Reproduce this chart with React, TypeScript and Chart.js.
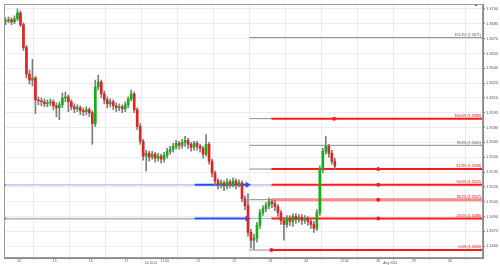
import React, { useEffect, useRef } from 'react';
import { Chart, registerables } from 'chart.js';

Chart.register(...registerables);

// ---- candle data (one candle per slot) ----
const openP = [1.3687,1.3688,1.3689,1.3687,1.3690,1.3696,1.3684,1.3661,1.3634,1.3628,
1.3630,1.3608,1.3607,1.3606,1.3604,1.3605,1.3606,1.3602,1.3600,1.3603,
1.3610,1.3611,1.3606,1.3601,1.3599,1.3600,1.3597,1.3596,1.3598,1.3595,
1.3584,1.3621,1.3626,1.3614,1.3608,1.3604,1.3606,1.3602,1.3600,1.3601,
1.3599,1.3603,1.3609,1.3614,1.3598,1.3581,1.3566,1.3551,1.3554,1.3550,
1.3553,1.3549,1.3551,1.3548,1.3552,1.3556,1.3558,1.3561,1.3564,1.3562,
1.3565,1.3567,1.3563,1.3560,1.3564,1.3561,1.3559,1.3553,1.3563,1.3546,
1.3534,1.3526,1.3522,1.3524,1.3521,1.3525,1.3523,1.3526,1.3522,1.3524,
1.3508,1.3501,1.3474,1.3466,1.3468,1.3481,1.3494,1.3498,1.3501,1.3505,
1.3503,1.3500,1.3494,1.3486,1.3482,1.3488,1.3485,1.3490,1.3487,1.3489,
1.3486,1.3488,1.3485,1.3482,1.3478,1.3494,1.3538,1.3556,1.3561,1.3554,
1.3546];
const highP = [1.3691,1.3692,1.3691,1.3693,1.3700,1.3698,1.3686,1.3663,1.3638,1.3649,
1.3632,1.3611,1.3610,1.3609,1.3608,1.3609,1.3608,1.3605,1.3606,1.3615,
1.3616,1.3613,1.3608,1.3604,1.3603,1.3602,1.3600,1.3601,1.3600,1.3597,
1.3628,1.3633,1.3628,1.3617,1.3611,1.3609,1.3608,1.3605,1.3604,1.3603,
1.3606,1.3611,1.3618,1.3616,1.3600,1.3584,1.3568,1.3557,1.3556,1.3556,
1.3555,1.3554,1.3553,1.3555,1.3559,1.3561,1.3564,1.3567,1.3566,1.3568,
1.3571,1.3569,1.3565,1.3566,1.3566,1.3563,1.3561,1.3573,1.3565,1.3548,
1.3536,1.3528,1.3527,1.3526,1.3528,1.3527,1.3529,1.3528,1.3527,1.3526,
1.3511,1.3513,1.3477,1.3472,1.3484,1.3497,1.3501,1.3504,1.3509,1.3507,
1.3506,1.3502,1.3496,1.3489,1.3491,1.3491,1.3493,1.3493,1.3492,1.3492,
1.3491,1.3490,1.3487,1.3485,1.3497,1.3541,1.3559,1.3571,1.3563,1.3557,
1.3549];
const lowP = [1.3684,1.3686,1.3684,1.3685,1.3688,1.3682,1.3658,1.3630,1.3624,1.3622,
1.3594,1.3603,1.3602,1.3601,1.3601,1.3602,1.3598,1.3591,1.3588,1.3600,
1.3606,1.3596,1.3598,1.3595,1.3596,1.3593,1.3592,1.3593,1.3591,1.3563,
1.3581,1.3618,1.3610,1.3604,1.3600,1.3601,1.3598,1.3596,1.3597,1.3595,
1.3596,1.3600,1.3607,1.3595,1.3578,1.3563,1.3547,1.3536,1.3546,1.3548,
1.3545,1.3546,1.3544,1.3545,1.3549,1.3553,1.3555,1.3558,1.3558,1.3559,
1.3561,1.3559,1.3556,1.3557,1.3557,1.3555,1.3549,1.3551,1.3543,1.3530,
1.3522,1.3518,1.3519,1.3516,1.3518,1.3519,1.3520,1.3518,1.3520,1.3505,
1.3497,1.3470,1.3458,1.3457,1.3464,1.3478,1.3491,1.3495,1.3498,1.3499,
1.3496,1.3490,1.3482,1.3466,1.3479,1.3481,1.3480,1.3483,1.3484,1.3482,
1.3483,1.3481,1.3478,1.3474,1.3476,1.3491,1.3534,1.3553,1.3550,1.3543,
1.3538];
const closeP = [1.3688,1.3689,1.3687,1.3690,1.3696,1.3684,1.3661,1.3634,1.3628,1.3630,
1.3608,1.3607,1.3606,1.3604,1.3605,1.3606,1.3602,1.3600,1.3603,1.3610,
1.3611,1.3606,1.3601,1.3599,1.3600,1.3597,1.3596,1.3598,1.3595,1.3584,
1.3621,1.3626,1.3614,1.3608,1.3604,1.3606,1.3602,1.3600,1.3601,1.3599,
1.3603,1.3609,1.3614,1.3598,1.3581,1.3566,1.3551,1.3554,1.3550,1.3553,
1.3549,1.3551,1.3548,1.3552,1.3556,1.3558,1.3561,1.3564,1.3562,1.3565,
1.3567,1.3563,1.3560,1.3564,1.3561,1.3559,1.3553,1.3563,1.3546,1.3534,
1.3526,1.3522,1.3524,1.3521,1.3525,1.3523,1.3526,1.3522,1.3524,1.3508,
1.3501,1.3474,1.3466,1.3468,1.3481,1.3494,1.3498,1.3501,1.3505,1.3503,
1.3500,1.3494,1.3486,1.3482,1.3488,1.3485,1.3490,1.3487,1.3489,1.3486,
1.3488,1.3485,1.3482,1.3478,1.3494,1.3538,1.3556,1.3561,1.3554,1.3546,
1.3541];

// ---- axes ----
const slotMax = 160;
const xTickSlots = [4, 16, 28, 40, 52, 64, 76, 88, 100, 112, 124, 136, 148];
const xTickLabels = ['14', '15', '16', '17', '12:00', '21', '22', '23', '24', '12:00', '28', '29', '30'];
const monthLabels = ['Jul 2014', 'Aug 2014'];
const monthSlots = [49, 129];
const yMin = 1.3448;
const yMax = 1.3705;
const yTicks = [1.37, 1.3685, 1.367, 1.3655, 1.364, 1.3625, 1.361, 1.3595, 1.358, 1.3565, 1.355, 1.3535, 1.352, 1.3505, 1.349, 1.3475, 1.346];

// ---- Fibonacci levels ----
const fibPct = ['0.0%', '23.6%', '38.2%', '50.0%', '61.8%', '78.6%', '100.0%', '161.8%'];
const fibPrice = [1.3456, 1.3488, 1.3507, 1.3522, 1.3538, 1.3562, 1.3589, 1.3671];
const fibStartSlot = 82;
const fibActiveSlot = 89.3;
const fibDotSlot = [89.3, 125, 125, 125, 125, null, 110.3, null];
const arrowPrice = [1.3522, 1.3488];
const arrowFromSlot = 63.7;
const arrowToSlot = 81.3;
const topMarker = { slot: 157.7, price: 1.3705 };

// styles per level (kept separate from data)
const fibKind = ['red', 'red', 'redLight', 'red', 'red', 'gray', 'red', 'gray'];
const fibLead = ['gray', 'blue', 'gray', 'blue', 'gray', 'gray', 'gray', 'gray'];

const RED = '#ff1a1a';
const GRAY = '#8c8c8c';
const LAV = '#a4a4ff';
const BLUE = '#1f4fff';
const FONT = '"Liberation Sans", Arial, sans-serif';

export default function App() {
  const ref = useRef<HTMLCanvasElement | null>(null);

  useEffect(() => {
    if (!ref.current) return;
    const datasets: any[] = [];

    fibPrice.forEach((p, k) => {
      const kind = fibKind[k];
      if (kind === 'gray') {
        datasets.push({ type: 'line', data: [{ x: fibStartSlot, y: p }, { x: slotMax, y: p }], borderColor: GRAY, borderWidth: 1, pointRadius: 0, order: 5 });
      } else {
        if (fibLead[k] === 'blue') {
          datasets.push({ type: 'line', data: [{ x: 0, y: p }, { x: fibActiveSlot, y: p }], borderColor: LAV, borderWidth: 1, pointRadius: [2, 0], pointStyle: 'rect', pointBackgroundColor: '#3040ff', pointBorderWidth: 0, order: 5 });
        } else {
          datasets.push({ type: 'line', data: [{ x: fibStartSlot, y: p }, { x: fibActiveSlot, y: p }], borderColor: GRAY, borderWidth: 1, pointRadius: 0, order: 5 });
        }
        datasets.push({ type: 'line', data: [{ x: fibActiveSlot, y: p }, { x: slotMax, y: p }], borderColor: kind === 'redLight' ? 'rgba(255,60,60,0.6)' : RED, borderWidth: kind === 'redLight' ? 3 : 2, pointRadius: 0, order: 5 });
      }
    });
    datasets.push({ type: 'line', data: [{ x: 0, y: arrowPrice[1] - 0.0001 }, { x: arrowFromSlot, y: arrowPrice[1] - 0.0001 }], borderColor: 'rgba(225,225,110,0.9)', borderWidth: 1, pointRadius: 0, order: 5 });
    arrowPrice.forEach((p) => {
      datasets.push({ type: 'line', data: [{ x: arrowFromSlot, y: p }, { x: arrowToSlot, y: p }], borderColor: BLUE, borderWidth: 2, pointRadius: [0, 3.5], pointStyle: 'triangle', rotation: 90, pointBackgroundColor: BLUE, pointBorderColor: BLUE, pointBorderWidth: 0, order: 4 });
    });
    const dots: any[] = [];
    fibPrice.forEach((p, k) => { if (fibDotSlot[k] != null) dots.push({ x: fibDotSlot[k], y: p }); });
    datasets.push({ type: 'scatter', data: dots, pointRadius: 2, pointBackgroundColor: RED, pointBorderWidth: 0, order: 3 });
    datasets.push({ type: 'scatter', data: [{ x: topMarker.slot, y: topMarker.price }], pointRadius: 1.8, pointBackgroundColor: '#000', pointBorderWidth: 0, order: 3 });

    const up = closeP.map((c, i) => c >= openP[i]);
    datasets.push({ type: 'bar', grouped: false, data: closeP.map((_, i) => ({ x: i + 0.5, y: [lowP[i], highP[i]] })), backgroundColor: '#7d7d7d', barThickness: 1, order: 2 });
    datasets.push({ type: 'bar', grouped: false, minBarLength: 1, data: closeP.map((c, i) => ({ x: i + 0.5, y: [openP[i], c] })), backgroundColor: up.map(u => (u ? '#12b012' : '#e02424')), barThickness: 2, order: 1 });

    const overlay = {
      id: 'overlay',
      afterDraw(chart: any) {
        const { ctx, chartArea: a, scales } = chart;
        const x = scales.x, y = scales.y;
        ctx.save();
        ctx.font = `3.6px ${FONT}`;
        ctx.textAlign = 'right';
        ctx.textBaseline = 'bottom';
        fibPrice.forEach((p, k) => {
          ctx.fillStyle = fibKind[k] === 'gray' ? '#555' : '#e00000';
          ctx.fillText(`${fibPct[k]} (${p.toFixed(4)})`, a.right - 2, y.getPixelForValue(p) - 1);
        });
        ctx.font = `3.2px ${FONT}`;
        ctx.textAlign = 'center';
        ctx.textBaseline = 'top';
        ctx.fillStyle = '#555';
        monthLabels.forEach((m, k) => ctx.fillText(m, x.getPixelForValue(monthSlots[k]), a.bottom + 4));
        ctx.strokeStyle = '#9a9a9a';
        ctx.lineWidth = 1;
        ctx.strokeRect(a.left + 0.5, a.top + 0.5, a.width - 1, a.height - 1);
        ctx.restore();
      },
    };

    const chart = new Chart(ref.current, {
      type: 'bar',
      data: { datasets },
      options: {
        animation: false,
        responsive: false,
        maintainAspectRatio: false,
        layout: { padding: { left: 1, top: 1, right: 0, bottom: 0 } },
        plugins: { legend: { display: false }, tooltip: { enabled: false } },
        scales: {
          x: {
            type: 'linear', min: 0, max: slotMax, offset: false, position: 'bottom',
            afterBuildTicks: (s: any) => { s.ticks = xTickSlots.map(v => ({ value: v })); },
            afterFit: (s: any) => { s.height = 7; },
            ticks: {
              autoSkip: false, maxRotation: 0, align: 'start', padding: 0,
              font: { size: 3.4, family: FONT, lineHeight: 1 }, color: '#555',
              callback: (v: any) => { const k = xTickSlots.indexOf(Number(v)); return k >= 0 ? ' ' + xTickLabels[k] : ''; },
            },
            grid: { color: '#ececec', tickLength: 1.5, tickColor: '#888' },
            border: { color: '#888' },
          },
          y: {
            position: 'right', min: yMin, max: yMax,
            afterBuildTicks: (s: any) => { s.ticks = yTicks.map(v => ({ value: v })); },
            afterFit: (s: any) => { s.width = 17; },
            ticks: { padding: 1, font: { size: 4, family: FONT }, color: '#555', callback: (v: any) => Number(v).toFixed(4) },
            grid: { color: '#ececec', tickLength: 2, tickColor: '#888' },
            border: { color: '#888' },
          },
        },
      } as any,
      plugins: [overlay],
    });
    return () => chart.destroy();
  }, []);

  return (
    <div style={{ position: 'fixed', left: 0, top: 0, width: 500, height: 265, background: '#fff' }}>
      <canvas ref={ref} width={500} height={265} style={{ width: 500, height: 265, display: 'block' }} />
    </div>
  );
}
